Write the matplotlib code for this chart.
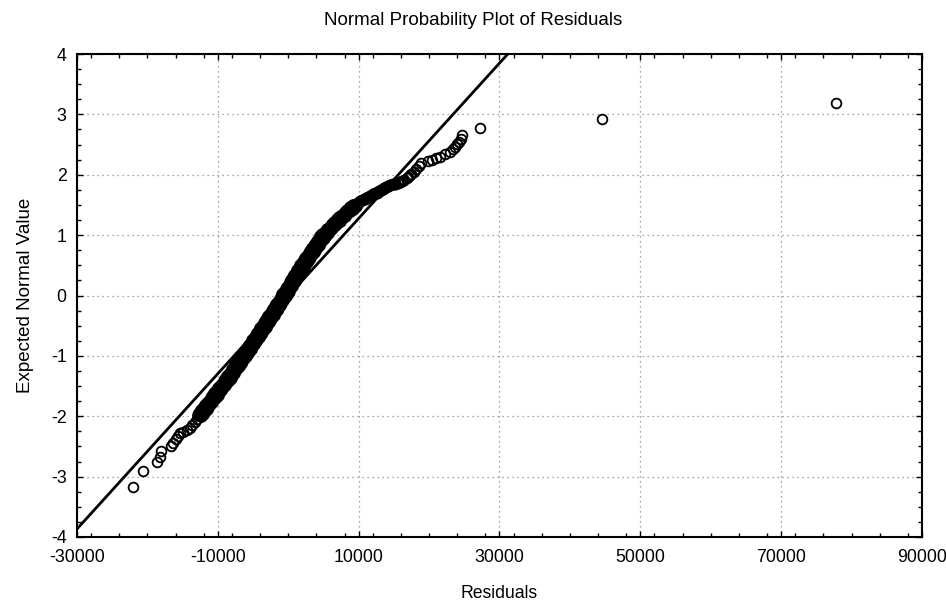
"""Normal probability plot of regression residuals."""
import matplotlib
matplotlib.use('Agg')
import matplotlib.pyplot as plt
from matplotlib.ticker import MultipleLocator

plt.rcParams['font.family'] = ['Liberation Sans', 'DejaVu Sans']
plt.rcParams['axes.unicode_minus'] = False

# residuals (sorted by expected value) and their expected normal values,
# read off the plot
# lower tail
resid_low = [-22000, -20600, -18600, -18200, -18100, -16700, -16300, -15950,
             -15650, -15350, -14900, -14350, -14000, -13700, -13300, -13000]
normal_low = [-3.18, -2.90, -2.76, -2.67, -2.57, -2.50, -2.45, -2.38,
              -2.33, -2.28, -2.26, -2.23, -2.19, -2.15, -2.10, -2.05]

# dense middle band
resid_mid = [
    -12400, -12800, -12150, -12650, -11850, -12350, -11600, -12100, -11400, -11800,
    -11100, -11600, -10800, -11280, -10560, -11000, -10300, -10800, -10000, -10500,
    -9800, -10200, -9500, -10000, -9200, -9700, -9000, -9420, -8750, -9180,
    -8480, -9000, -8200, -8700, -8000, -8430, -7750, -8200, -7500, -7940,
    -7240, -7750, -6980, -7500, -6720, -7220, -6530, -6960, -6260, -6700,
    -6000, -6500, -5750, -6260, -5520, -6020, -5330, -5780, -5090, -5540,
    -4840, -5350, -4600, -5100, -4400, -4860, -4170, -4620, -3930, -4390,
    -3680, -4180, -3460, -3950, -3220, -3700, -3010, -3480, -2780, -3240,
    -2540, -3060, -2320, -2820, -2090, -2580, -1900, -2360, -1660, -2120,
    -1420, -1940, -1200, -1700, -970, -1460, -780, -1240, -540, -1010,
    -300, -820, -90, -600, 120, -380, 300, -170, 510, 40,
    740, 220, 950, 430, 1160, 660, 1340, 870, 1550, 1080,
    1780, 1260, 1990, 1470, 2200, 1700, 2400, 1940, 2630, 2180,
    2900, 2400, 3140, 2630, 3380, 2900, 3600, 3140, 3840, 3380,
    4100, 3600, 4340, 3840, 4580, 4100, 4800, 4340, 5040, 4580,
    5300, 4850, 5640, 5180, 5970, 5540, 6280, 5880, 6620, 6210,
    6980, 6530, 7320, 6890, 7680, 7270, 8030, 7640, 8400, 8020,
    8810, 8380, 9180, 8750, 9560, 9150,
]
normal_mid = [
    -2.00, -1.98, -1.96, -1.94, -1.92, -1.90, -1.88, -1.86, -1.84, -1.82,
    -1.80, -1.78, -1.76, -1.74, -1.72, -1.70, -1.68, -1.66, -1.64, -1.62,
    -1.60, -1.58, -1.56, -1.54, -1.52, -1.50, -1.48, -1.46, -1.44, -1.42,
    -1.40, -1.38, -1.36, -1.34, -1.32, -1.30, -1.28, -1.26, -1.24, -1.22,
    -1.20, -1.18, -1.16, -1.14, -1.12, -1.10, -1.08, -1.06, -1.04, -1.02,
    -1.00, -0.98, -0.96, -0.94, -0.92, -0.90, -0.88, -0.86, -0.84, -0.82,
    -0.80, -0.78, -0.76, -0.74, -0.72, -0.70, -0.68, -0.66, -0.64, -0.62,
    -0.60, -0.58, -0.56, -0.54, -0.52, -0.50, -0.48, -0.46, -0.44, -0.42,
    -0.40, -0.38, -0.36, -0.34, -0.32, -0.30, -0.28, -0.26, -0.24, -0.22,
    -0.20, -0.18, -0.16, -0.14, -0.12, -0.10, -0.08, -0.06, -0.04, -0.02,
    0.00, 0.02, 0.04, 0.06, 0.08, 0.10, 0.12, 0.14, 0.16, 0.18,
    0.20, 0.22, 0.24, 0.26, 0.28, 0.30, 0.32, 0.34, 0.36, 0.38,
    0.40, 0.42, 0.44, 0.46, 0.48, 0.50, 0.52, 0.54, 0.56, 0.58,
    0.60, 0.62, 0.64, 0.66, 0.68, 0.70, 0.72, 0.74, 0.76, 0.78,
    0.80, 0.82, 0.84, 0.86, 0.88, 0.90, 0.92, 0.94, 0.96, 0.98,
    1.00, 1.02, 1.04, 1.06, 1.08, 1.10, 1.12, 1.14, 1.16, 1.18,
    1.20, 1.22, 1.24, 1.26, 1.28, 1.30, 1.32, 1.34, 1.36, 1.38,
    1.40, 1.42, 1.44, 1.46, 1.48, 1.50,
]

# upper bend (still dense)
resid_bend = [
    9650, 9900, 10200, 10500, 10850, 11100, 11350, 11600, 11850, 12100,
    12350, 12550, 12750, 12950, 13150, 13400, 13650, 13900, 14200, 14500,
    14850, 15200, 15550, 15850, 16100,
]
normal_bend = [
    1.52, 1.54, 1.56, 1.58, 1.60, 1.615, 1.63, 1.645, 1.66, 1.675,
    1.69, 1.705, 1.72, 1.735, 1.75, 1.765, 1.78, 1.795, 1.81, 1.825,
    1.84, 1.855, 1.87, 1.885, 1.90,
]

# upper tail
resid_high = [
    16450, 16800, 17050, 17250, 17500, 17800, 18200, 18600, 18800, 19800,
    20400, 21000, 21600, 22200, 23000, 23400, 23700, 24000, 24200, 24500,
    24700, 27200, 44500, 77800,
]
normal_high = [
    1.92, 1.94, 1.96, 1.99, 2.02, 2.05, 2.09, 2.14, 2.19, 2.22,
    2.24, 2.27, 2.30, 2.34, 2.38, 2.42, 2.46, 2.51, 2.55, 2.60,
    2.66, 2.77, 2.92, 3.19,
]

# reference line
line_intercept = -0.009
line_slope = 1.286e-4

x_ticks = [-30000, -10000, 10000, 30000, 50000, 70000, 90000]
y_ticks = [-4, -3, -2, -1, 0, 1, 2, 3, 4]

fig = plt.figure(figsize=(9.46, 6.01), dpi=100)
ax = fig.add_axes([0.0814, 0.1065, 0.8932, 0.8036])

ax.axline((0, line_intercept), slope=line_slope, color='black', lw=2.0, zorder=2)
marker = dict(ls='none', marker='o', ms=7, mfc='none', mec='black',
              zorder=3, clip_on=False)
ax.plot(resid_low, normal_low, mew=1.3, **marker)
ax.plot(resid_mid, normal_mid, mew=2.2, **marker)
ax.plot(resid_bend, normal_bend, mew=1.7, **marker)
ax.plot(resid_high, normal_high, mew=1.3, **marker)

ax.set_xlim(-30000, 90000)
ax.set_ylim(-4, 4)
ax.set_xticks(x_ticks)
ax.set_yticks(y_ticks)
ax.xaxis.set_minor_locator(MultipleLocator(4000))
ax.yaxis.set_minor_locator(MultipleLocator(0.25))
ax.tick_params(which='both', direction='in', top=True, right=True,
               labelsize=12.8, width=1, color='black')
ax.tick_params(which='major', length=4)
ax.tick_params(which='minor', length=3)
ax.tick_params(axis='x', which='major', pad=9)
ax.tick_params(axis='y', which='major', pad=7.5)
ax.grid(True, which='major', color='#888888', ls=(0, (1, 3)), lw=0.9)
for sp in ax.spines.values():
    sp.set_linewidth(1.5)

fig.text(0.5, 1 - 25 / 601, 'Normal Probability Plot of Residuals',
         fontsize=13.5, ha='center', va='baseline')
ax.set_xlabel('Residuals', fontsize=12.7, labelpad=13)
ax.set_ylabel('Expected Normal Value', fontsize=13.5, labelpad=12)

fig.savefig('out.png', dpi=100)
